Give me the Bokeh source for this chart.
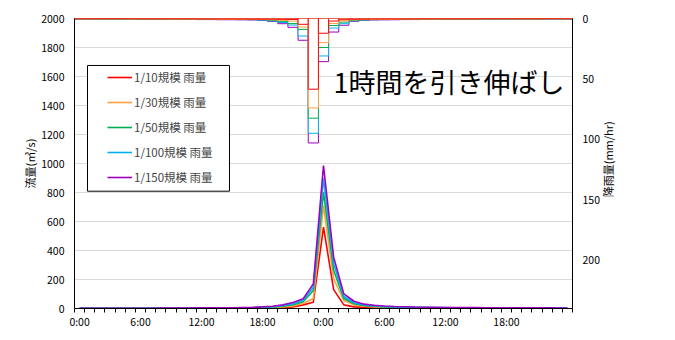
import math
from bokeh.plotting import figure
from bokeh.models import Range1d, LinearAxis, FixedTicker, Legend, LegendItem, BoxAnnotation, Label
from bokeh.embed import file_html
from bokeh.resources import INLINE

hours = list(range(49))
x_tick_pos = [0, 6, 12, 18, 24, 30, 36, 42]
x_tick_text = ["0:00", "6:00", "12:00", "18:00", "0:00", "6:00", "12:00", "18:00"]
flow_ticks = list(range(0, 2001, 200))
rain_ticks = [0, 50, 100, 150, 200]

names = ["1/10規模 雨量", "1/30規模 雨量", "1/50規模 雨量", "1/100規模 雨量", "1/150規模 雨量"]
colors = ["#FF0000", "#FFA040", "#00B050", "#00B0F0", "#A000C0"]

rain_10 = [0.2,0.2,0.2,0.2,0.2,0.2,0.3,0.3,0.3,0.3,0.3,0.3,0.4,0.4,0.4,0.4,0.4,0.5,
           0.5,0.6,0.7,0.8,4.8,58.5,12.2,2.1,1.0,0.6,0.5,0.4,0.4,0.4,0.4,0.3,0.3,0.3,
           0.3,0.3,0.3,0.3,0.2,0.2,0.2,0.2,0.2,0.2,0.2,0.2,0.2]
rain_30 = [0.3,0.3,0.3,0.3,0.3,0.4,0.4,0.4,0.4,0.5,0.5,0.5,0.5,0.5,0.6,0.6,0.6,0.7,
           0.8,1.1,1.6,2.2,7.0,74.0,20.0,4.1,2.0,1.1,0.8,0.7,0.6,0.6,0.5,0.5,0.5,0.5,
           0.4,0.4,0.4,0.4,0.3,0.3,0.3,0.3,0.3,0.3,0.2,0.2,0.2]
rain_50 = [0.3,0.3,0.4,0.4,0.4,0.4,0.5,0.5,0.5,0.6,0.6,0.6,0.6,0.7,0.7,0.7,0.8,0.8,
           1.0,1.6,2.4,4.2,9.0,82.5,24.0,5.8,3.0,1.5,1.1,0.9,0.8,0.7,0.7,0.6,0.6,0.6,
           0.5,0.5,0.5,0.4,0.4,0.4,0.4,0.3,0.3,0.3,0.3,0.3,0.3]
rain_100 = [0.4,0.4,0.4,0.5,0.5,0.5,0.6,0.6,0.6,0.7,0.7,0.7,0.8,0.8,0.8,0.9,0.9,1.0,
            1.3,2.1,3.3,5.4,14.5,95.0,31.0,7.9,4.3,1.9,1.3,1.0,0.9,0.9,0.8,0.8,0.7,0.7,
            0.6,0.6,0.6,0.5,0.5,0.5,0.4,0.4,0.4,0.4,0.3,0.3,0.3]
rain_150 = [0.5,0.5,0.5,0.6,0.6,0.6,0.7,0.7,0.7,0.8,0.8,0.8,0.9,0.9,1.0,1.0,1.1,1.2,
            1.5,2.5,4.3,7.3,18.0,103.0,35.7,11.2,5.6,2.3,1.5,1.2,1.1,1.0,0.9,0.9,0.8,0.8,
            0.7,0.7,0.7,0.6,0.6,0.6,0.5,0.5,0.5,0.5,0.4,0.4,0.4]

flow_10 = [1,1,1,1,1,1,1,1,1,1,1,1,1,1,2,2,2,3,4,5,7,11,25,43,561,130,25,11,8,6,5,4,4,3,3,3,3,2,2,2,2,2,2,2,2,1,1,1,1]
flow_30 = [1,1,1,1,1,1,1,2,2,2,2,2,2,2,3,3,3,4,6,8,11,18,34,69,710,205,55,25,15,11,8,7,6,5,5,4,4,3,3,3,3,3,2,2,2,2,2,2,2]
flow_50 = [1,1,1,1,2,2,2,2,2,2,2,3,3,3,3,4,4,5,8,11,16,26,46,124,802,262,69,33,20,15,11,9,8,7,6,5,5,4,4,4,4,3,3,3,3,3,2,2,2]
flow_100 = [2,2,2,2,2,2,2,2,2,3,3,3,3,4,4,4,5,6,10,13,20,33,56,147,897,308,83,40,24,18,14,11,9,8,7,6,6,5,5,5,4,4,4,4,3,3,3,3,3]
flow_150 = [2,2,2,2,2,2,2,2,3,3,3,3,4,4,5,5,6,7,12,16,25,41,67,170,986,354,101,50,30,22,17,14,12,10,9,8,7,7,6,6,5,5,5,4,4,4,4,3,3]

rains = [rain_10, rain_30, rain_50, rain_100, rain_150]
flows = [flow_10, flow_30, flow_50, flow_100, flow_150]

FONT = "Noto Sans CJK JP"

p = figure(frame_width=498, frame_height=290,
           x_range=Range1d(-0.5, 48.5), y_range=Range1d(0, 2000),
           output_backend="svg", toolbar_location=None,
           min_border_left=74, min_border_right=95, min_border_top=18, min_border_bottom=24)
p.outline_line_color = None
p.background_fill_color = "white"
p.extra_y_ranges = {"rain": Range1d(240, 0)}

# rain bars (outline only, white fill) - back to front
for r, c in reversed(list(zip(rains, colors))):
    p.vbar(x=hours, bottom=0, top=r, width=1, y_range_name="rain",
           fill_color="white", line_color=c, line_width=1)

# flow lines
line_rs = []
for f, c in zip(flows, colors):
    line_rs.append(p.line(hours, f, line_color=c, line_width=1.6))

# axes
xa = p.xaxis[0]
xa.ticker = FixedTicker(ticks=x_tick_pos, minor_ticks=[k - 0.5 for k in range(50)])
xa.major_label_overrides = {t: s for t, s in zip(x_tick_pos, x_tick_text)}
xa.major_tick_out = 0
xa.major_tick_in = 0
xa.minor_tick_out = 4
xa.minor_tick_in = 0
xa.major_label_standoff = 1

ya = p.yaxis[0]
ya.ticker = FixedTicker(ticks=flow_ticks)
ya.major_tick_out = 0
ya.major_tick_in = 0
ya.minor_tick_out = 0
ya.minor_tick_in = 0
ya.major_label_standoff = 10
ya.axis_label = "流量(㎥/s)"
ya.axis_label_standoff = 0

ra = LinearAxis(y_range_name="rain", ticker=FixedTicker(ticks=rain_ticks))
ra.major_tick_out = 0
ra.major_tick_in = 0
ra.minor_tick_out = 0
ra.minor_tick_in = 0
ra.major_label_standoff = 10
p.add_layout(ra, "right")

# right-hand title, reading bottom-to-top, carried by a tickless outer axis
rain_title_pos = 148
rt = LinearAxis(y_range_name="rain", ticker=FixedTicker(ticks=[rain_title_pos]))
rt.major_label_overrides = {rain_title_pos: "降雨量(mm/hr)"}
rt.major_label_orientation = math.pi / 2
rt.axis_line_color = None
rt.major_tick_line_color = None
rt.minor_tick_line_color = None
rt.major_tick_out = 0
rt.major_tick_in = 0
rt.major_label_standoff = 6
rt.major_label_text_font = FONT
rt.major_label_text_font_size = "11px"
rt.major_label_text_color = "black"
p.add_layout(rt, "right")

for ax in [xa, ya, ra]:
    ax.axis_line_color = "black"
    ax.major_label_text_font = FONT
    ax.major_label_text_font_size = "10.5px"
    ax.major_label_text_color = "black"
    ax.axis_label_text_font = FONT
    ax.axis_label_text_font_size = "11px"
    ax.axis_label_text_font_style = "normal"
    ax.axis_label_text_color = "black"
    ax.minor_tick_line_color = "black"

p.xgrid.visible = False
p.ygrid.ticker = FixedTicker(ticks=flow_ticks)
p.ygrid.grid_line_color = "#D9D9D9"

# legend box
box = BoxAnnotation(left=0.78, right=14.75, bottom=809, top=1676,
                    fill_color="white", fill_alpha=1.0,
                    line_color="black", line_width=1, line_alpha=1.0)
p.add_layout(box)

legend = Legend(items=[LegendItem(label=n, renderers=[r]) for n, r in zip(names, line_rs)],
                location=(33, 121), padding=0, spacing=5,
                label_height=20, glyph_height=20, glyph_width=25, label_standoff=2,
                label_text_font=FONT, label_text_font_size="11.5px",
                border_line_alpha=0, background_fill_alpha=0)
p.add_layout(legend, "center")

note = Label(x=24.98, y=1565, text="1時間を引き伸ばし", text_font=FONT,
             text_font_size="27px", text_baseline="middle", text_color="black")
p.add_layout(note)

open("out.html", "w").write(file_html(p, INLINE))
